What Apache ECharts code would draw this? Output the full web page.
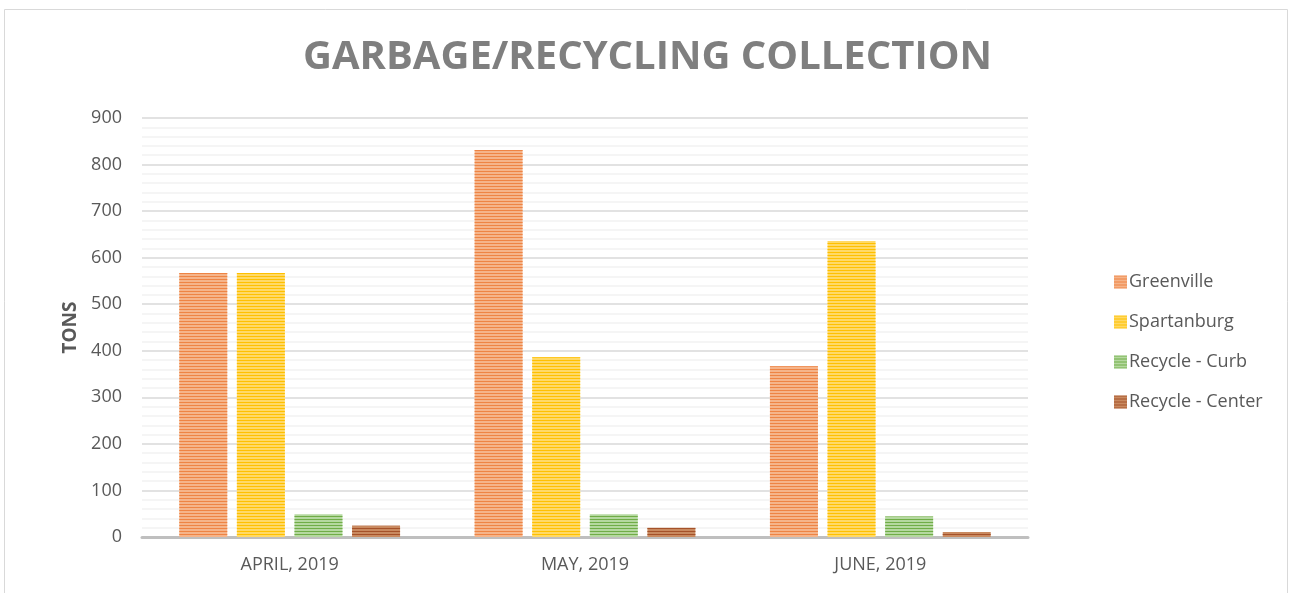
<!DOCTYPE html>
<html>
<head>
    <meta charset="utf-8">
    <title>Garbage/Recycling Collection</title>
    <script src="https://cdn.jsdelivr.net/npm/echarts@6/dist/echarts.min.js"></script>
    <style>
        html, body { margin: 0; padding: 0; background: #fff; }
        #chart { width: 1295px; height: 593px; }
    </style>
</head>
<body>
<div id="chart"></div>
<script>
    var months = ['APRIL, 2019', 'MAY, 2019', 'JUNE, 2019'];
    var greenville = [567, 831, 367];
    var spartanburg = [567, 386, 636];
    var recycleCurb = [49, 49, 44];
    var recycleCenter = [24, 20, 11];

    // fill, stripe colour
    var palette = [
        ['#F5B48A', '#EE8444'],
        ['#FFD966', '#FFC000'],
        ['#B5D8A0', '#70AD47'],
        ['#C98A60', '#A5522A']
    ];

    function barSeries(name, data, idx) {
        return {
            name: name,
            type: 'bar',
            data: data,
            barWidth: 48,
            barGap: '20%',
            itemStyle: {
                color: palette[idx][0],
                decal: {
                    symbol: 'rect',
                    symbolSize: 1,
                    dashArrayX: [[1, 0]],
                    dashArrayY: [1, 2],
                    rotation: 0,
                    color: palette[idx][1]
                }
            }
        };
    }

    var chart = echarts.init(document.getElementById('chart'));
    var option = {
        animation: false,
        aria: { enabled: false },
        title: {
            text: 'GARBAGE/RECYCLING COLLECTION',
            left: 'center',
            top: 33,
            textStyle: {
                fontFamily: 'Open Sans',
                fontWeight: 'bold',
                fontSize: 40,
                color: '#7F7F7F'
            }
        },
        graphic: [{
            type: 'rect',
            shape: { x: 4.5, y: 9.5, width: 1283, height: 600 },
            style: { fill: 'none', stroke: '#D9D9D9', lineWidth: 1 },
            silent: true
        }],
        legend: {
            orient: 'vertical',
            left: 1109,
            top: 268,
            itemWidth: 13,
            itemHeight: 13,
            itemGap: 22,
            icon: 'rect',
            textStyle: {
                fontFamily: 'Open Sans',
                fontSize: 18,
                color: '#595959',
                padding: [0, 0, 0, -3]
            },
            data: ['Greenville', 'Spartanburg', 'Recycle - Curb', 'Recycle - Center']
        },
        grid: {
            left: 142,
            right: 267,
            top: 118,
            bottom: 56,
            containLabel: false
        },
        xAxis: {
            type: 'category',
            data: months,
            axisLine: { lineStyle: { color: '#BFBFBF', width: 3 } },
            axisTick: { show: false },
            axisLabel: {
                fontFamily: 'Open Sans',
                fontSize: 18,
                color: '#595959',
                margin: 19
            }
        },
        yAxis: {
            type: 'value',
            min: 0,
            max: 900,
            interval: 100,
            name: 'TONS',
            nameLocation: 'middle',
            nameGap: 62,
            nameRotate: 90,
            nameTextStyle: {
                fontFamily: 'Open Sans',
                fontWeight: 'bold',
                fontSize: 19,
                color: '#595959'
            },
            axisLine: { show: false },
            axisTick: { show: false },
            axisLabel: {
                fontFamily: 'Open Sans',
                fontSize: 18,
                color: '#595959',
                margin: 20
            },
            splitLine: { lineStyle: { color: '#D9D9D9', width: 1.5 } },
            minorTick: { show: false, splitNumber: 5 },
            minorSplitLine: { show: true, lineStyle: { color: '#F2F2F2', width: 1.5 } }
        },
        series: [
            barSeries('Greenville', greenville, 0),
            barSeries('Spartanburg', spartanburg, 1),
            barSeries('Recycle - Curb', recycleCurb, 2),
            barSeries('Recycle - Center', recycleCenter, 3)
        ]
    };
    chart.setOption(option);
</script>
</body>
</html>
